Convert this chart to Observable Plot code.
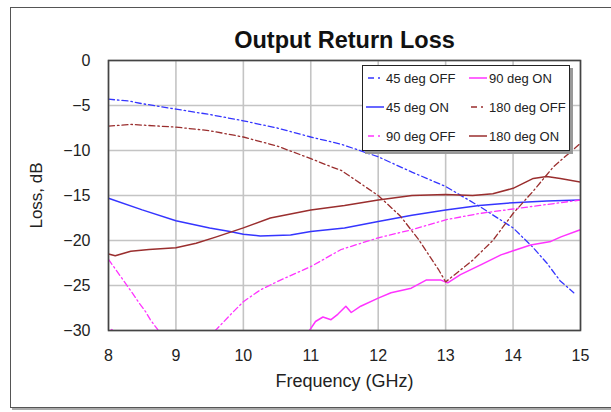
<!DOCTYPE html>
<html><head><meta charset="utf-8">
<script src="https://cdn.jsdelivr.net/npm/d3@7"></script>
<script src="https://cdn.jsdelivr.net/npm/@observablehq/plot@0.6"></script>
<style>
body{margin:0;background:#fff;width:611px;height:412px;overflow:hidden;position:relative;font-family:"Liberation Sans",Arial,sans-serif}
#outer{position:absolute;left:10px;top:7px;width:640px;height:399px;border:1.5px solid #555;box-shadow:2px 2px 0 #aaa;background:#fff}
#chart{position:absolute;left:0;top:0}
#legend{position:absolute;left:362px;top:65px;width:206px;height:84px;border:1.5px solid #222;box-shadow:3px 3px 0 #999;background:#fff;font-size:13px;color:#222}
.entry{position:absolute;display:flex;align-items:center;height:16px;white-space:nowrap}
.entry svg{margin-right:2px}
</style></head><body>
<div id="outer"></div>
<div id="chart"></div>
<div id="legend"></div>
<script>
const seriesNames = ["45 deg OFF", "45 deg ON", "90 deg OFF", "90 deg ON", "180 deg OFF", "180 deg ON"];
const seriesColors = ["#3535ff", "#3535ff", "#ff33ff", "#ff33ff", "#9a2e2e", "#9a2e2e"];
const xTicks = [8, 9, 10, 11, 12, 13, 14, 15];
const yTicks = [0, -5, -10, -15, -20, -25, -30];

const freq45Off = [8, 8.3, 8.5, 9, 9.5, 10, 10.5, 11, 11.45, 12, 12.5, 13, 13.5, 14, 14.3, 14.5, 14.7, 14.9];
const loss45Off = [-4.3, -4.5, -4.8, -5.4, -6.0, -6.7, -7.5, -8.5, -9.3, -10.7, -12.4, -14.0, -16.2, -18.6, -20.8, -22.5, -24.5, -25.8];

const freq45On = [8, 8.5, 9, 9.5, 9.8, 10, 10.25, 10.7, 11, 11.5, 12, 12.5, 13, 13.5, 14, 14.5, 15];
const loss45On = [-15.3, -16.6, -17.8, -18.6, -19.0, -19.3, -19.5, -19.4, -19.0, -18.6, -17.9, -17.2, -16.6, -16.1, -15.8, -15.6, -15.5];

const freq90Off = [8, 8.18, 8.35, 8.45, 8.55, 8.62, 8.72, 9.08, 9.61, 9.7, 9.84, 10, 10.25, 10.55, 11, 11.45, 12, 12.5, 13, 13.5, 14, 14.4, 15];
const loss90Off = [-22.1, -24.0, -25.8, -26.9, -27.9, -28.8, -29.8, -33.8, -29.8, -29.1, -28.0, -26.8, -25.5, -24.4, -22.9, -21.0, -19.7, -18.8, -17.7, -17.0, -16.5, -16.1, -15.5];

const freq90On = [8, 8.05, 8.2, 10.9, 10.98, 11.07, 11.18, 11.3, 11.4, 11.52, 11.6, 11.74, 12, 12.19, 12.49, 12.71, 12.93, 13.03, 13.22, 13.52, 13.82, 13.98, 14.26, 14.56, 14.71, 15];
const loss90On = [-30.2, -29.9, -31.5, -31.0, -30.0, -29.0, -28.5, -28.8, -28.2, -27.3, -28.0, -27.3, -26.4, -25.8, -25.3, -24.4, -24.4, -24.7, -23.8, -22.7, -21.6, -21.2, -20.5, -20.1, -19.6, -18.8];

const freq180Off = [8, 8.33, 9, 9.5, 10, 10.5, 11, 11.3, 11.45, 12, 12.33, 12.6, 12.9, 13.0, 13.4, 13.7, 14, 14.3, 14.6, 15];
const loss180Off = [-7.3, -7.1, -7.4, -7.8, -8.5, -9.5, -10.9, -11.8, -12.2, -15.0, -17.3, -19.9, -23.3, -24.6, -22.2, -20.0, -17.0, -14.5, -11.8, -9.2];

const freq180On = [8, 8.1, 8.33, 8.6, 9, 9.3, 9.6, 10, 10.4, 11, 11.5, 12, 12.5, 13, 13.4, 13.7, 14, 14.3, 14.5, 14.7, 15];
const loss180On = [-21.5, -21.7, -21.2, -21.0, -20.8, -20.3, -19.6, -18.6, -17.5, -16.6, -16.1, -15.5, -15.0, -14.9, -15.0, -14.8, -14.2, -13.1, -12.9, -13.1, -13.5];

const freqs = [freq45Off, freq45On, freq90Off, freq90On, freq180Off, freq180On];
const losses = [loss45Off, loss45On, loss90Off, loss90On, loss180Off, loss180On];
const isOff = seriesNames.map(n => n.endsWith("OFF"));
const dashOff = "6,3,1.5,3";

const table = seriesNames.flatMap((name, i) => freqs[i].map((f, j) => ({series: name, freq: f, loss: losses[i][j]})));

const font = '"Liberation Sans", Arial, sans-serif';
const lineMarks = seriesNames.map((name, i) => Plot.line(table.filter(d => d.series === name), {
  x: "freq", y: "loss", stroke: seriesColors[i], strokeWidth: isOff[i] ? 1.3 : 1.5,
  strokeDasharray: isOff[i] ? dashOff : null, clip: true
}));

const chart = Plot.plot({
  width: 611, height: 412,
  marginLeft: 108, marginRight: 31, marginTop: 60, marginBottom: 82,
  style: {fontFamily: font, fontSize: "16px", color: "#222", background: "transparent"},
  x: {domain: [8, 15], ticks: xTicks},
  y: {domain: [-30, 0], ticks: yTicks},
  marks: [
    Plot.gridX(xTicks, {stroke: "#c4c4c4", strokeOpacity: 1, strokeWidth: 1.6}),
    Plot.gridY(yTicks, {stroke: "#c4c4c4", strokeOpacity: 1, strokeWidth: 1.6}),
    ...lineMarks,
    Plot.frame({stroke: "#444", strokeWidth: 1.6}),
    Plot.axisX(xTicks, {tickSize: 0, tickPadding: 19, label: null, fontSize: 16}),
    Plot.axisY(yTicks, {tickSize: 0, tickPadding: 18, label: null, fontSize: 16}),
    Plot.text(["Output Return Loss"], {frameAnchor: "top", lineAnchor: "middle", textAnchor: "middle", dy: -20, fontSize: 23.5, fontWeight: "bold", fill: "#111"}),
    Plot.text(["Frequency (GHz)"], {frameAnchor: "bottom", lineAnchor: "middle", textAnchor: "middle", dy: 51, fontSize: 18, fill: "#222"}),
    Plot.text(["Loss, dB"], {frameAnchor: "left", lineAnchor: "middle", textAnchor: "middle", dx: -72, rotate: -90, fontSize: 17, fill: "#222"})
  ]
});
document.getElementById("chart").appendChild(chart);

const legend = document.getElementById("legend");
const order = [0, 1, 2, 3, 4, 5];
order.forEach((i, k) => {
  const col = Math.floor(k / 3), row = k % 3;
  const e = document.createElement("div");
  e.className = "entry";
  e.style.left = (col * 103 + 3) + "px";
  e.style.top = (row * 29 + 4) + "px";
  const dash = isOff[i] ? 'stroke-dasharray="6,4,2,4" stroke-dashoffset="-2"' : "";
  e.innerHTML = `<svg width="18" height="10"><line x1="0" x2="18" y1="5" y2="5" stroke="${seriesColors[i]}" stroke-width="1.5" ${dash}/></svg><span>${seriesNames[i]}</span>`;
  legend.appendChild(e);
});
</script>
</body></html>
